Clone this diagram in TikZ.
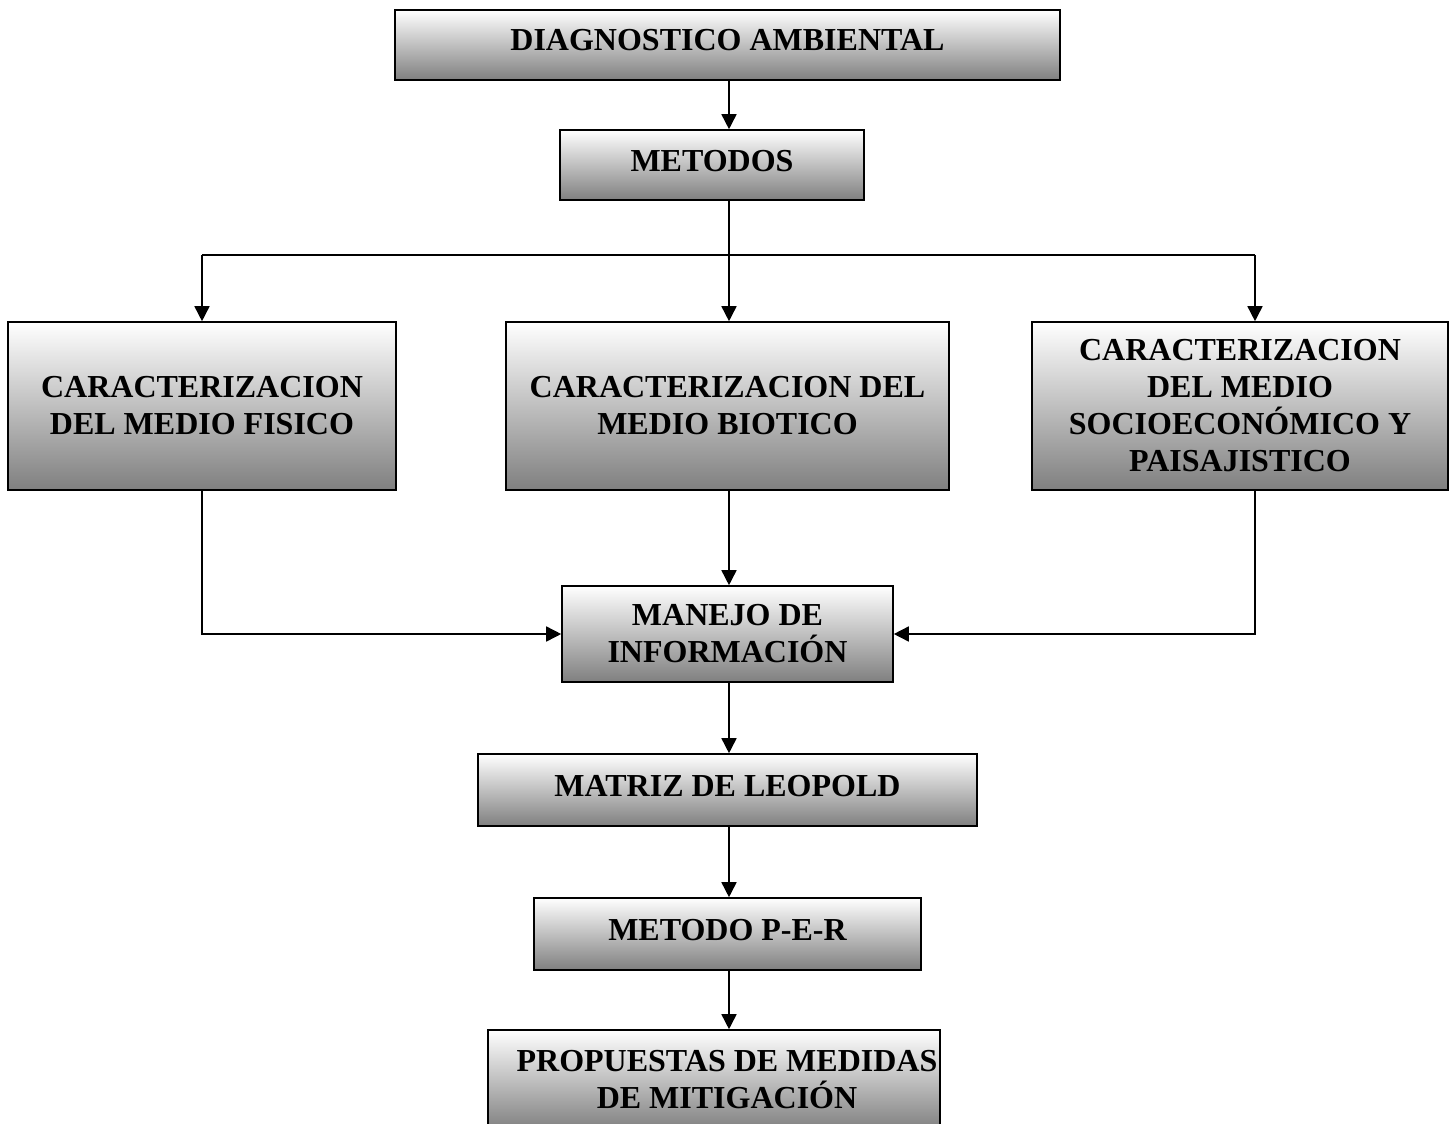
\documentclass[tikz,border=0pt]{standalone}
\usepackage{fontspec}
\setmainfont{Liberation Serif}
\usetikzlibrary{arrows.meta,calc}
\begin{document}
\begin{tikzpicture}[x=1pt,y=1pt,
  box/.style={draw=black, line width=1.6pt, top color=white, bottom color=black!50,
    align=center, inner sep=0pt, font=\fontsize{32}{37}\selectfont\bfseries},
  onel/.style={text height=22pt, text depth=10pt},
  arr/.style={line width=1.6pt, -{Triangle[width=15pt,length=15pt]}},
  ln/.style={line width=1.6pt}]
\useasboundingbox (0,0) rectangle (1456,-1124);
\fill[white] (0,0) rectangle (1456,-1124);
\node[box, onel, minimum width=665pt, minimum height=70pt] (diag) at (727.5,-45) {DIAGNOSTICO AMBIENTAL};
\node[box, onel, minimum width=304pt, minimum height=70pt] (metodos) at (712,-165) {METODOS};
\node[box, minimum width=388pt, minimum height=168pt] (left) at (202,-406) {CARACTERIZACION\\DEL MEDIO FISICO};
\node[box, minimum width=443pt, minimum height=168pt] (mid) at (727.5,-406) {CARACTERIZACION DEL\\MEDIO BIOTICO};
\node[box, minimum width=416pt, minimum height=168pt] (right) at (1240,-406) {CARACTERIZACION\\DEL MEDIO\\SOCIOECONÓMICO Y\\PAISAJISTICO};
\node[box, minimum width=331pt, minimum height=96pt] (manejo) at (727.5,-634) {MANEJO DE\\INFORMACIÓN};
\node[box, onel, minimum width=499pt, minimum height=72pt] (matriz) at (727.5,-790) {MATRIZ DE LEOPOLD};
\node[box, onel, minimum width=387pt, minimum height=72pt] (per) at (727.5,-934) {METODO P-E-R};
\node[box, minimum width=452pt, minimum height=100pt] (prop) at (714,-1080) {\hspace*{26pt}PROPUESTAS DE MEDIDAS\\\hspace*{26pt}DE MITIGACIÓN};

\coordinate (cx) at (729,0);
\coordinate (split) at (729,-255);
\coordinate (rt) at (1255,-255);
\coordinate (lt) at (202,-255);

\draw[arr] (cx |- diag.south) -- (cx |- metodos.north);
\draw[ln] (cx |- metodos.south) -- (split);
\draw[ln] (lt) -- (rt);
\draw[arr] (lt) -- (lt |- left.north);
\draw[arr] (split) -- (cx |- mid.north);
\draw[arr] (rt) -- (rt |- right.north);

\draw[arr] (lt |- left.south) |- (manejo.west);
\draw[arr] (cx |- mid.south) -- (cx |- manejo.north);
\draw[arr] (rt |- right.south) |- (manejo.east);

\draw[arr] (cx |- manejo.south) -- (cx |- matriz.north);
\draw[arr] (cx |- matriz.south) -- (cx |- per.north);
\draw[arr] (cx |- per.south) -- (cx |- prop.north);
\end{tikzpicture}
\end{document}
